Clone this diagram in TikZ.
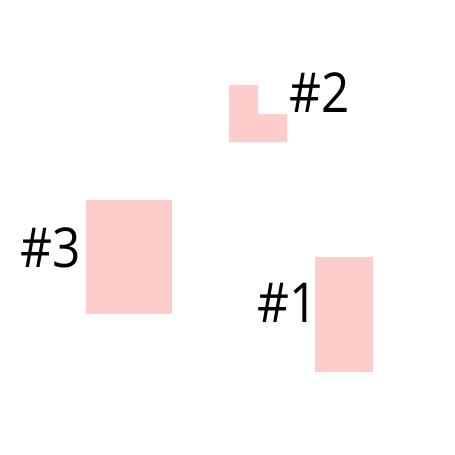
\documentclass[tikz,border=0pt]{standalone}
\usepackage{fontspec}
\setmainfont{Open Sans}
\definecolor{shapepink}{RGB}{255,204,204}
\newcommand{\narrowtxt}[1]{\scalebox{0.9}[1]{#1}}
\tikzset{
  blob/.style={fill=shapepink, draw=none},
  lbl/.style={anchor=base west, inner sep=0pt, font=\fontsize{55}{60}\selectfont, text=black}
}
\begin{document}
\begin{tikzpicture}[x=1pt,y=-1pt]
\useasboundingbox (0,0) rectangle (455,455);
\fill[white] (0,0) rectangle (455,455);
% shape #2 (L)
\path[blob] (229,85) -- (258,85) -- (258,114) -- (287,114) -- (287,142) -- (229,142) -- cycle;
\node[lbl] (l2) at (289,112) {\narrowtxt{\#2}};
% shape #3
\path[blob] (86,200) rectangle (172,314);
\node[lbl] (l3) at (20,267) {\narrowtxt{\#3}};
% shape #1
\path[blob] (315,257) rectangle (373,372);
\node[lbl] (l1) at (257,322) {\narrowtxt{\#1}};
\end{tikzpicture}
\end{document}
